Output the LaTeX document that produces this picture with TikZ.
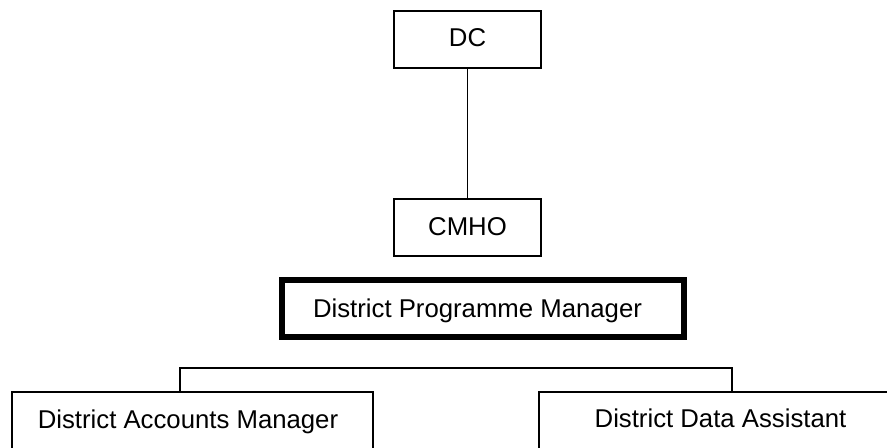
\documentclass[tikz,border=0pt]{standalone}
\usepackage{fontspec}
\setmainfont{Liberation Sans}
\begin{document}
\begin{tikzpicture}[x=0.75pt,y=-0.75pt,
  box/.style={draw=black,line width=1.3pt,inner sep=0pt,align=center,
    font=\fontsize{19.3}{23}\selectfont,text height=13.8pt},
  smallbox/.style={box,minimum width=110.25pt,minimum height=42.75pt},
  thickbox/.style={box,line width=4.5pt,minimum width=301.5pt,minimum height=42.75pt},
  bottombox/.style={box,minimum height=45pt},
  conn/.style={draw=black,line width=1.3pt}]
\useasboundingbox (0,0) rectangle (887,448);
\clip (0,0) rectangle (887,448);
\node[smallbox,text depth=3pt] (dc) at (467.5,39.5) {DC};
\node[smallbox,text depth=2.5pt] (cmho) at (467.5,227.5) {CMHO};
\node[thickbox,text depth=0pt] (dpm) at (483,308.5) {District Programme Manager\kern8.25pt};
\node[bottombox,minimum width=270.75pt,text depth=4.2pt] (dam) at (192.5,422) {District Accounts Manager\kern6.75pt};
\node[bottombox,minimum width=272.25pt,text depth=6pt] (dda) at (720.5,422) {District Data Assistant};
\coordinate (bl) at (180,368);
\coordinate (br) at (732,368);
\draw[conn] (dc.south) -- (cmho.north);
\draw[conn] (dam.north -| bl) -- (bl) -- (br) -- (dda.north -| br);
\end{tikzpicture}
\end{document}
